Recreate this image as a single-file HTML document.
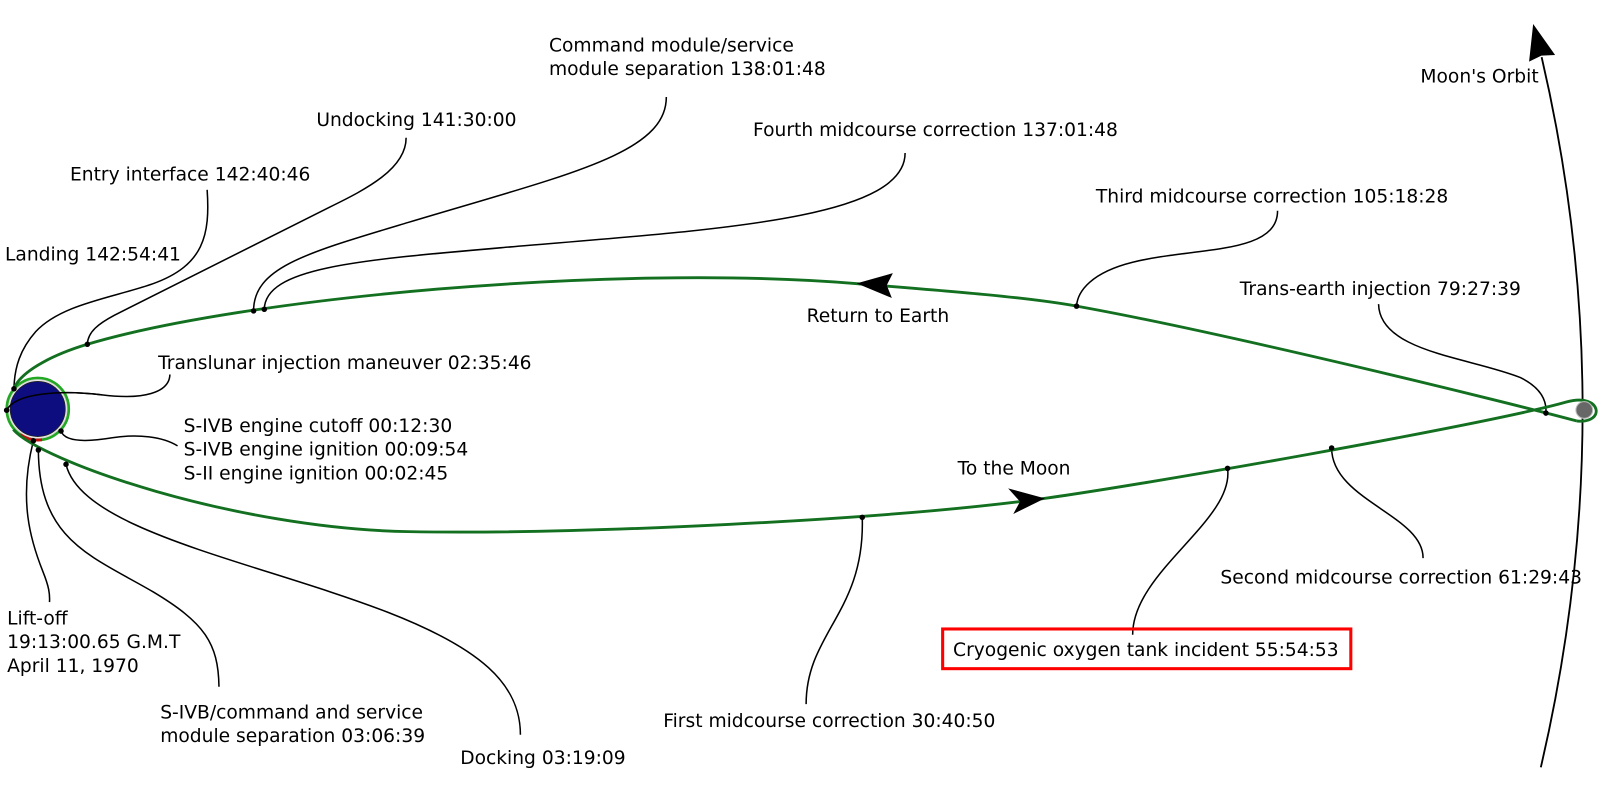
<!DOCTYPE html>
<html>
<head>
<meta charset="utf-8">
<style>
  html, body { margin: 0; padding: 0; background: #ffffff; }
  svg { display: block; }
  text { font-family: "DejaVu Sans", "Liberation Sans", sans-serif; font-size: 18.3px; fill: #000; }
</style>
</head>
<body>
<svg width="1600" height="800" viewBox="0 0 1568 784" xmlns="http://www.w3.org/2000/svg">
  <rect x="0" y="0" width="1568" height="784" fill="#ffffff"/>

  <!-- Moon's orbit -->
  <path d="M1510,752 Q1591.5,403 1510.8,56" fill="none" stroke="#000" stroke-width="1.8"/>
  <polygon points="1502.5,23.5 1524,53.9 1510.6,54.5 1498.5,60.4" fill="#000"/>

  <!-- Black connectors -->
  <g fill="none" stroke="#000" stroke-width="1.5">
    <!-- Entry interface -->
    <path d="M203,186 C206,230 200,260 150,278 C110,292 60,298 35,325 C20,342 14,360 13.7,381"/>
    <!-- Undocking -->
    <path d="M398,135 C398,165 360,185 323,203 L112,309 C97,317 86,325 85.6,337.4"/>
    <!-- CM/SM separation -->
    <path d="M653,95 C653,150 560,170 400,218 C300,248 248.5,262 248.5,304.7"/>
    <!-- Fourth midcourse -->
    <path d="M887,150 C887,215 700,225 500,242 C350,255 260,262 259,303.1"/>
    <!-- Third midcourse -->
    <path d="M1252,206.5 C1252,250 1170,242 1110,257 C1070,267 1056,285 1055,300"/>
    <!-- Trans-earth injection -->
    <path d="M1351,298 C1352,345 1440,350 1490,370 C1510,380 1516,392 1515,404.8"/>
    <!-- Translunar injection -->
    <path d="M6.5,402 C15,385 60,382 100,387 C140,392 166,385 166.5,367"/>
    <!-- S-IVB cutoff -->
    <path d="M59.8,422.4 C63,432 80,434 110,429 C135,425 160,428 174,437"/>
    <!-- Lift-off -->
    <path d="M32.7,432 C18,490 30,530 42,560 C48,575 49,582 48.5,590"/>
    <!-- S-IVB/CSM separation -->
    <path d="M37.6,441 C38,530 90,545 150,580 C200,610 214,630 214.6,673"/>
    <!-- Docking -->
    <path d="M64.7,455 C80,520 250,550 380,600 C470,635 510,670 510,720"/>
    <!-- First midcourse -->
    <path d="M845,507 C848,600 790,620 790,690"/>
    <!-- Cryogenic -->
    <path d="M1203,459 C1210,510 1110,560 1110,622"/>
    <!-- Second midcourse -->
    <path d="M1305,439 C1305,490 1395,505 1394.6,547"/>
  </g>

  <!-- Earth -->
  <circle cx="37" cy="400.8" r="27" fill="#0d0d80" stroke="#222" stroke-width="0.8"/>
  <circle cx="37" cy="400.8" r="28.6" fill="none" stroke="#d8d8d8" stroke-width="1.3"/>
  <circle cx="37" cy="400.8" r="30.4" fill="none" stroke="#22a822" stroke-width="2.6"/>
  <path d="M41.2,430.9 A30.4,30.4 0 0 1 19.6,425.7" fill="none" stroke="#c01010" stroke-width="2.8"/>

  <!-- Translunar connector across Earth redrawn on top -->
  <path d="M6.5,402 C15,385 60,382 100,387" fill="none" stroke="#000" stroke-width="1.5"/>

  <!-- Trajectories -->
  <g fill="none" stroke="#137020" stroke-width="2.8" stroke-linejoin="round">
    <path d="M13,421 C40,452 230,518 400,521 C570,524 862,509.5 1012,490 C1112,477 1460,415.4 1535,394 C1570,384 1574,416 1545,412.5"/>
    <path d="M1545,412.5 C1480,395 1200,326 1055,300 C1000,290 900,283 840,278 C600,258 235.6,292.4 85.6,337.4 C55.6,346.4 22,362 14,380"/>
  </g>

  <!-- Moon -->
  <circle cx="1552.6" cy="401.8" r="8.2" fill="#676767" stroke="#bbbbbb" stroke-width="1"/>

  <!-- Arrowheads on trajectories -->
  <polygon points="839.5,277.7 875,267.7 869,279.5 874,292" fill="#000"/>
  <polygon points="1024,488.4 988,478.6 999.6,491.6 993,503.7" fill="#000"/>

  <!-- Dots -->
  <g fill="#000">
    <circle cx="13.7" cy="381" r="2.7"/>
    <circle cx="6.5" cy="402" r="2.7"/>
    <circle cx="59.8" cy="422.4" r="2.7"/>
    <circle cx="32.7" cy="432" r="2.7"/>
    <circle cx="37.6" cy="441" r="2.7"/>
    <circle cx="64.7" cy="455" r="2.7"/>
    <circle cx="85.6" cy="337.4" r="2.7"/>
    <circle cx="248.5" cy="304.7" r="2.7"/>
    <circle cx="259" cy="303.1" r="2.7"/>
    <circle cx="1055" cy="300" r="2.7"/>
    <circle cx="1515" cy="404.8" r="2.7"/>
    <circle cx="845" cy="507" r="2.7"/>
    <circle cx="1203" cy="459" r="2.7"/>
    <circle cx="1305" cy="439" r="2.7"/>
  </g>

  <!-- Red box -->
  <rect x="923.8" y="616.4" width="400" height="38.9" fill="none" stroke="#ff0000" stroke-width="3"/>

  <!-- Labels -->
  <text x="1392" y="81">Moon's Orbit</text>
  <text x="1215" y="289">Trans-earth injection 79:27:39</text>
  <text x="1074" y="198.6">Third midcourse correction 105:18:28</text>
  <text x="738" y="133.5">Fourth midcourse correction 137:01:48</text>
  <text x="538" y="50.5">Command module/service</text>
  <text x="538" y="73.5">module separation 138:01:48</text>
  <text x="310" y="123.5">Undocking 141:30:00</text>
  <text x="68.6" y="177">Entry interface 142:40:46</text>
  <text x="4.9" y="255.5">Landing 142:54:41</text>
  <text x="155" y="361.5">Translunar injection maneuver 02:35:46</text>
  <text x="180" y="423.5">S-IVB engine cutoff 00:12:30</text>
  <text x="180" y="446.5">S-IVB engine ignition 00:09:54</text>
  <text x="180" y="470">S-II engine ignition 00:02:45</text>
  <text x="790.5" y="315.5">Return to Earth</text>
  <text x="938.5" y="465">To the Moon</text>
  <text x="1196" y="571.7">Second midcourse correction 61:29:43</text>
  <text x="934" y="643">Cryogenic oxygen tank incident 55:54:53</text>
  <text x="650" y="712.5">First midcourse correction 30:40:50</text>
  <text x="7" y="612">Lift-off</text>
  <text x="7" y="635">19:13:00.65 G.M.T</text>
  <text x="7" y="658.5">April 11, 1970</text>
  <text x="157" y="704">S-IVB/command and service</text>
  <text x="157" y="727">module separation 03:06:39</text>
  <text x="451" y="748.5">Docking 03:19:09</text>
</svg>
</body>
</html>
